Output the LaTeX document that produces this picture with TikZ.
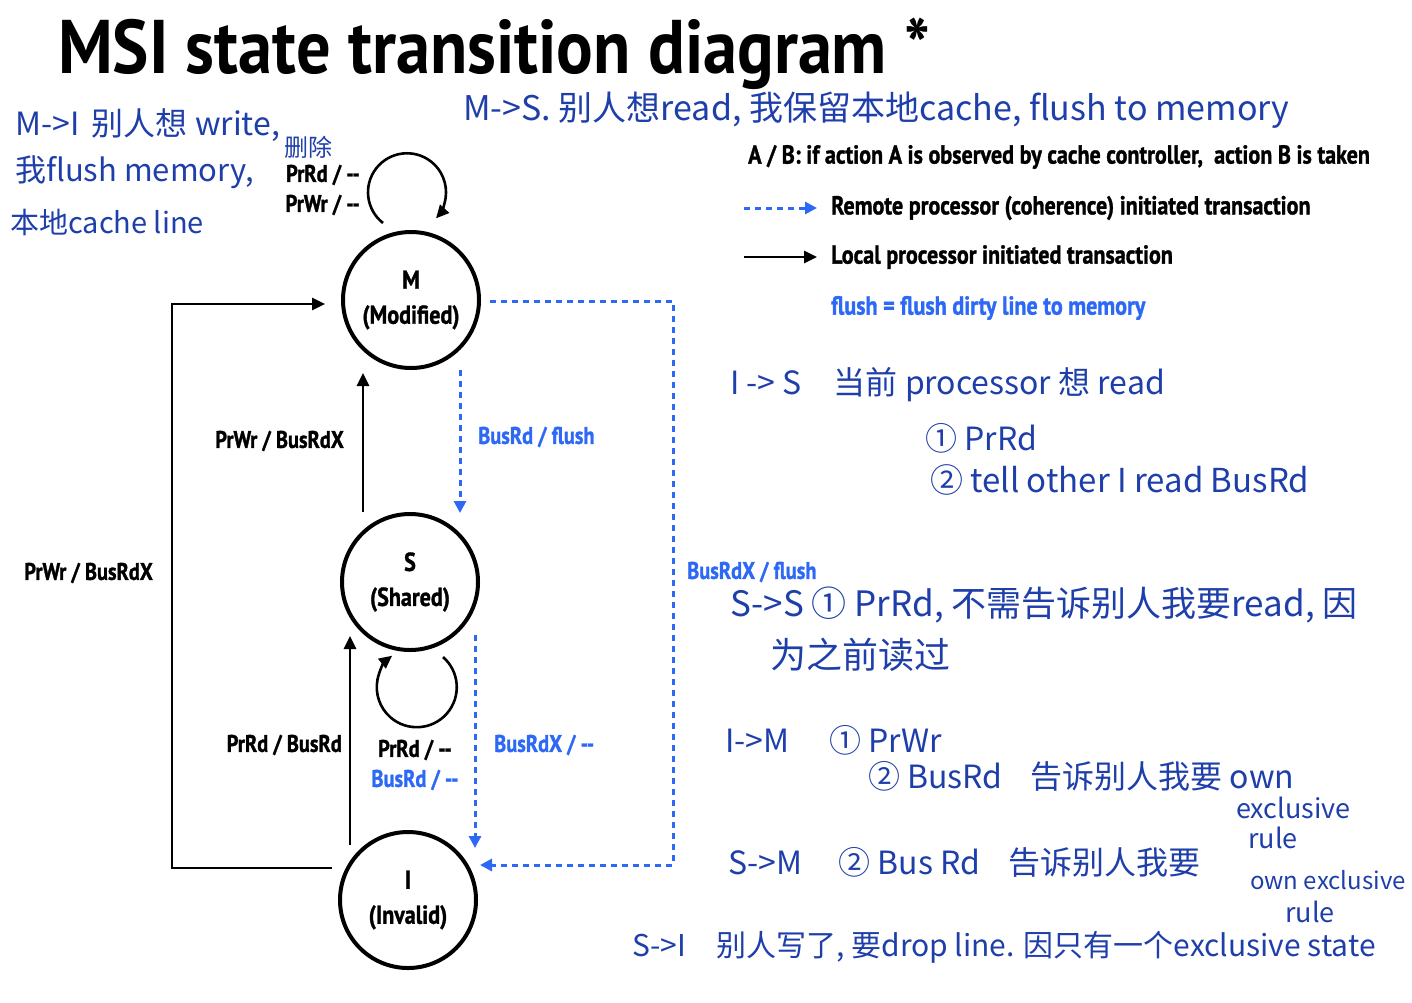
\documentclass[tikz,border=0pt]{standalone}
\usepackage{fontspec}
\setmainfont{PT Sans}[FakeStretch=0.85,BoldFeatures={FakeBold=1.2}]
\newfontfamily\titlefont{PT Sans}[FakeStretch=0.9]
\newfontfamily\cjk{Noto Sans CJK SC}
\usetikzlibrary{arrows.meta,calc}
\definecolor{rblue}{RGB}{45,105,245}
\definecolor{hblue}{RGB}{30,62,170}
\newcommand{\dd}{-{}-}
\begin{document}
\begin{tikzpicture}[x=1pt,y=-1pt,
  state/.style={circle,draw,line width=4pt,minimum size=136pt,inner sep=0pt,
    align=center,font=\bfseries\fontsize{26}{35}\selectfont},
  lbl/.style={font=\bfseries\fontsize{24}{28}\selectfont,inner sep=0pt},
  blbl/.style={lbl,text=rblue},
  leg/.style={font=\bfseries\fontsize{26}{30}\selectfont,inner sep=0pt,anchor=west},
  loc/.style={line width=2.6pt,-{Triangle[length=13pt,width=12pt]}},
  rem/.style={rblue,line width=3pt,dash pattern=on 6pt off 5pt,-{Triangle[length=12pt,width=12pt]}},
  hand/.style={anchor=west,text=hblue,inner sep=0pt,font=\cjk\fontsize{32}{36}\selectfont}]
\useasboundingbox (0,0) rectangle (1412,1002);

% title
\node[anchor=base west,inner sep=0pt,font=\titlefont\bfseries\fontsize{76}{80}\selectfont] (title) at (58,73) {MSI state transition diagram *};

% states
\node[state] (M) at (411,300) {M\\(Modified)};
\node[state] (S) at (410,582) {S\\(Shared)};
\node[state] (I) at (408,900) {I\\(Invalid)};

% self loops
\draw[loc] ($(M.center)+(-28,-77)$) arc[start angle=128,end angle=402,radius=39];
\draw[loc] ($(S.center)+(33,75)$) arc[start angle=-49,end angle=232,radius=40];

% local transitions
\draw[loc] ($(S.north)+(-47,0)$) -- ($(M.south)+(-48,3)$);
\draw[loc] ($(I.north)+(-58,15)$) -- ($(S.south)+(-60,-16)$);
\draw[loc] ($(I.west)+(-6,-32)$) -| ($(M.west)+(-169,4)$) -- ($(M.west)+(-16,4)$);

% remote transitions
\draw[rem] ($(M.south)+(49,0)$) -- ($(S.north)+(50,1)$);
\draw[rem] ($(S.south)+(65,-17)$) -- ($(I.north)+(67,18)$);
\draw[rem] ($(M.east)+(9,1)$) -| ($(I.east)+(195,-35)$) -- ($(I.east)+(2,-35)$);

% labels
\node[lbl,anchor=east] (lm1) at (360,175) {PrRd / \dd};
\node[lbl,anchor=east] (lm2) at (360,205) {PrWr / \dd};
\node[lbl,anchor=east] (lsm) at (344,441) {PrWr / BusRdX};
\node[blbl,anchor=west] (lms) at (478,437) {BusRd / flush};
\node[lbl,anchor=east] (lim) at (153,573) {PrWr / BusRdX};
\node[blbl,anchor=west] (lmi) at (687,572) {BusRdX / flush};
\node[lbl,anchor=east] (lis) at (342,745) {PrRd / BusRd};
\node[lbl] (ls1) at (415,750) {PrRd / \dd};
\node[blbl] (ls2) at (415,780) {BusRd / \dd};
\node[blbl,anchor=west] (lsi) at (494,745) {BusRdX / \dd};

% legend
\node[leg] (lg0) at (748,157) {A / B: if action A is observed by cache controller,\ \ action B is taken};
\coordinate (ld1) at (744,208);
\coordinate (ld2) at (817,208);
\draw[rem] (ld1) -- (ld2);
\node[leg] (lg1) at (831,208) {Remote processor (coherence) initiated transaction};
\coordinate (ll1) at (744,257);
\coordinate (ll2) at (817,257);
\draw[loc] (ll1) -- (ll2);
\node[leg] (lg2) at (831,257) {Local processor initiated transaction};
\node[leg,text=rblue] (lg3) at (831,308) {flush = flush dirty line to memory};

% handwritten notes
\node[hand,font=\cjk\fontsize{32}{36}\selectfont] (h1a) at (15,125) {M->I\, 别人想 write,};
\node[hand,font=\cjk\fontsize{31}{36}\selectfont] (h1b) at (15,172) {我flush memory,};
\node[hand,font=\cjk\fontsize{24}{28}\selectfont] (h1d) at (284,147) {删除};
\node[hand,font=\cjk\fontsize{29}{34}\selectfont] (h1c) at (10,222) {本地cache line};
\node[hand,font=\cjk\fontsize{34}{38}\selectfont] (h2) at (463,110) {M->S. 别人想read, 我保留本地cache, flush to memory};
\node[hand] (h3a) at (730,385) {I -> S\quad 当前 processor 想 read};
\node[hand] (h3b) at (925,438) {① PrRd};
\node[hand,font=\cjk\fontsize{33}{36}\selectfont] (h3c) at (930,480) {② tell other I read BusRd};
\node[hand,font=\cjk\fontsize{35}{40}\selectfont] (h4a) at (730,605) {S->S ① PrRd, 不需告诉别人我要read, 因};
\node[hand,font=\cjk\fontsize{36}{40}\selectfont] (h4b) at (770,655) {为之前读过};
\node[hand] (h5a) at (725,740) {I->M\hspace{40pt}① PrWr};
\node[hand] (h5b) at (868,776) {② BusRd\hspace{28pt}告诉别人我要 own};
\node[hand,font=\cjk\fontsize{27}{30}\selectfont] (h5c) at (1236,808) {exclusive};
\node[hand,font=\cjk\fontsize{27}{30}\selectfont] (h5d) at (1248,838) {rule};
\node[hand] (h6a) at (728,862) {S->M\hspace{36pt}② Bus Rd\hspace{28pt}告诉别人我要};
\node[hand,font=\cjk\fontsize{24}{28}\selectfont] (h6b) at (1250,880) {own exclusive};
\node[hand,font=\cjk\fontsize{27}{30}\selectfont] (h6c) at (1285,912) {rule};
\node[hand,font=\cjk\fontsize{30}{34}\selectfont] (h7) at (632,947) {S->I\quad 别人写了, 要drop line. 因只有一个exclusive state};
\end{tikzpicture}
\end{document}
